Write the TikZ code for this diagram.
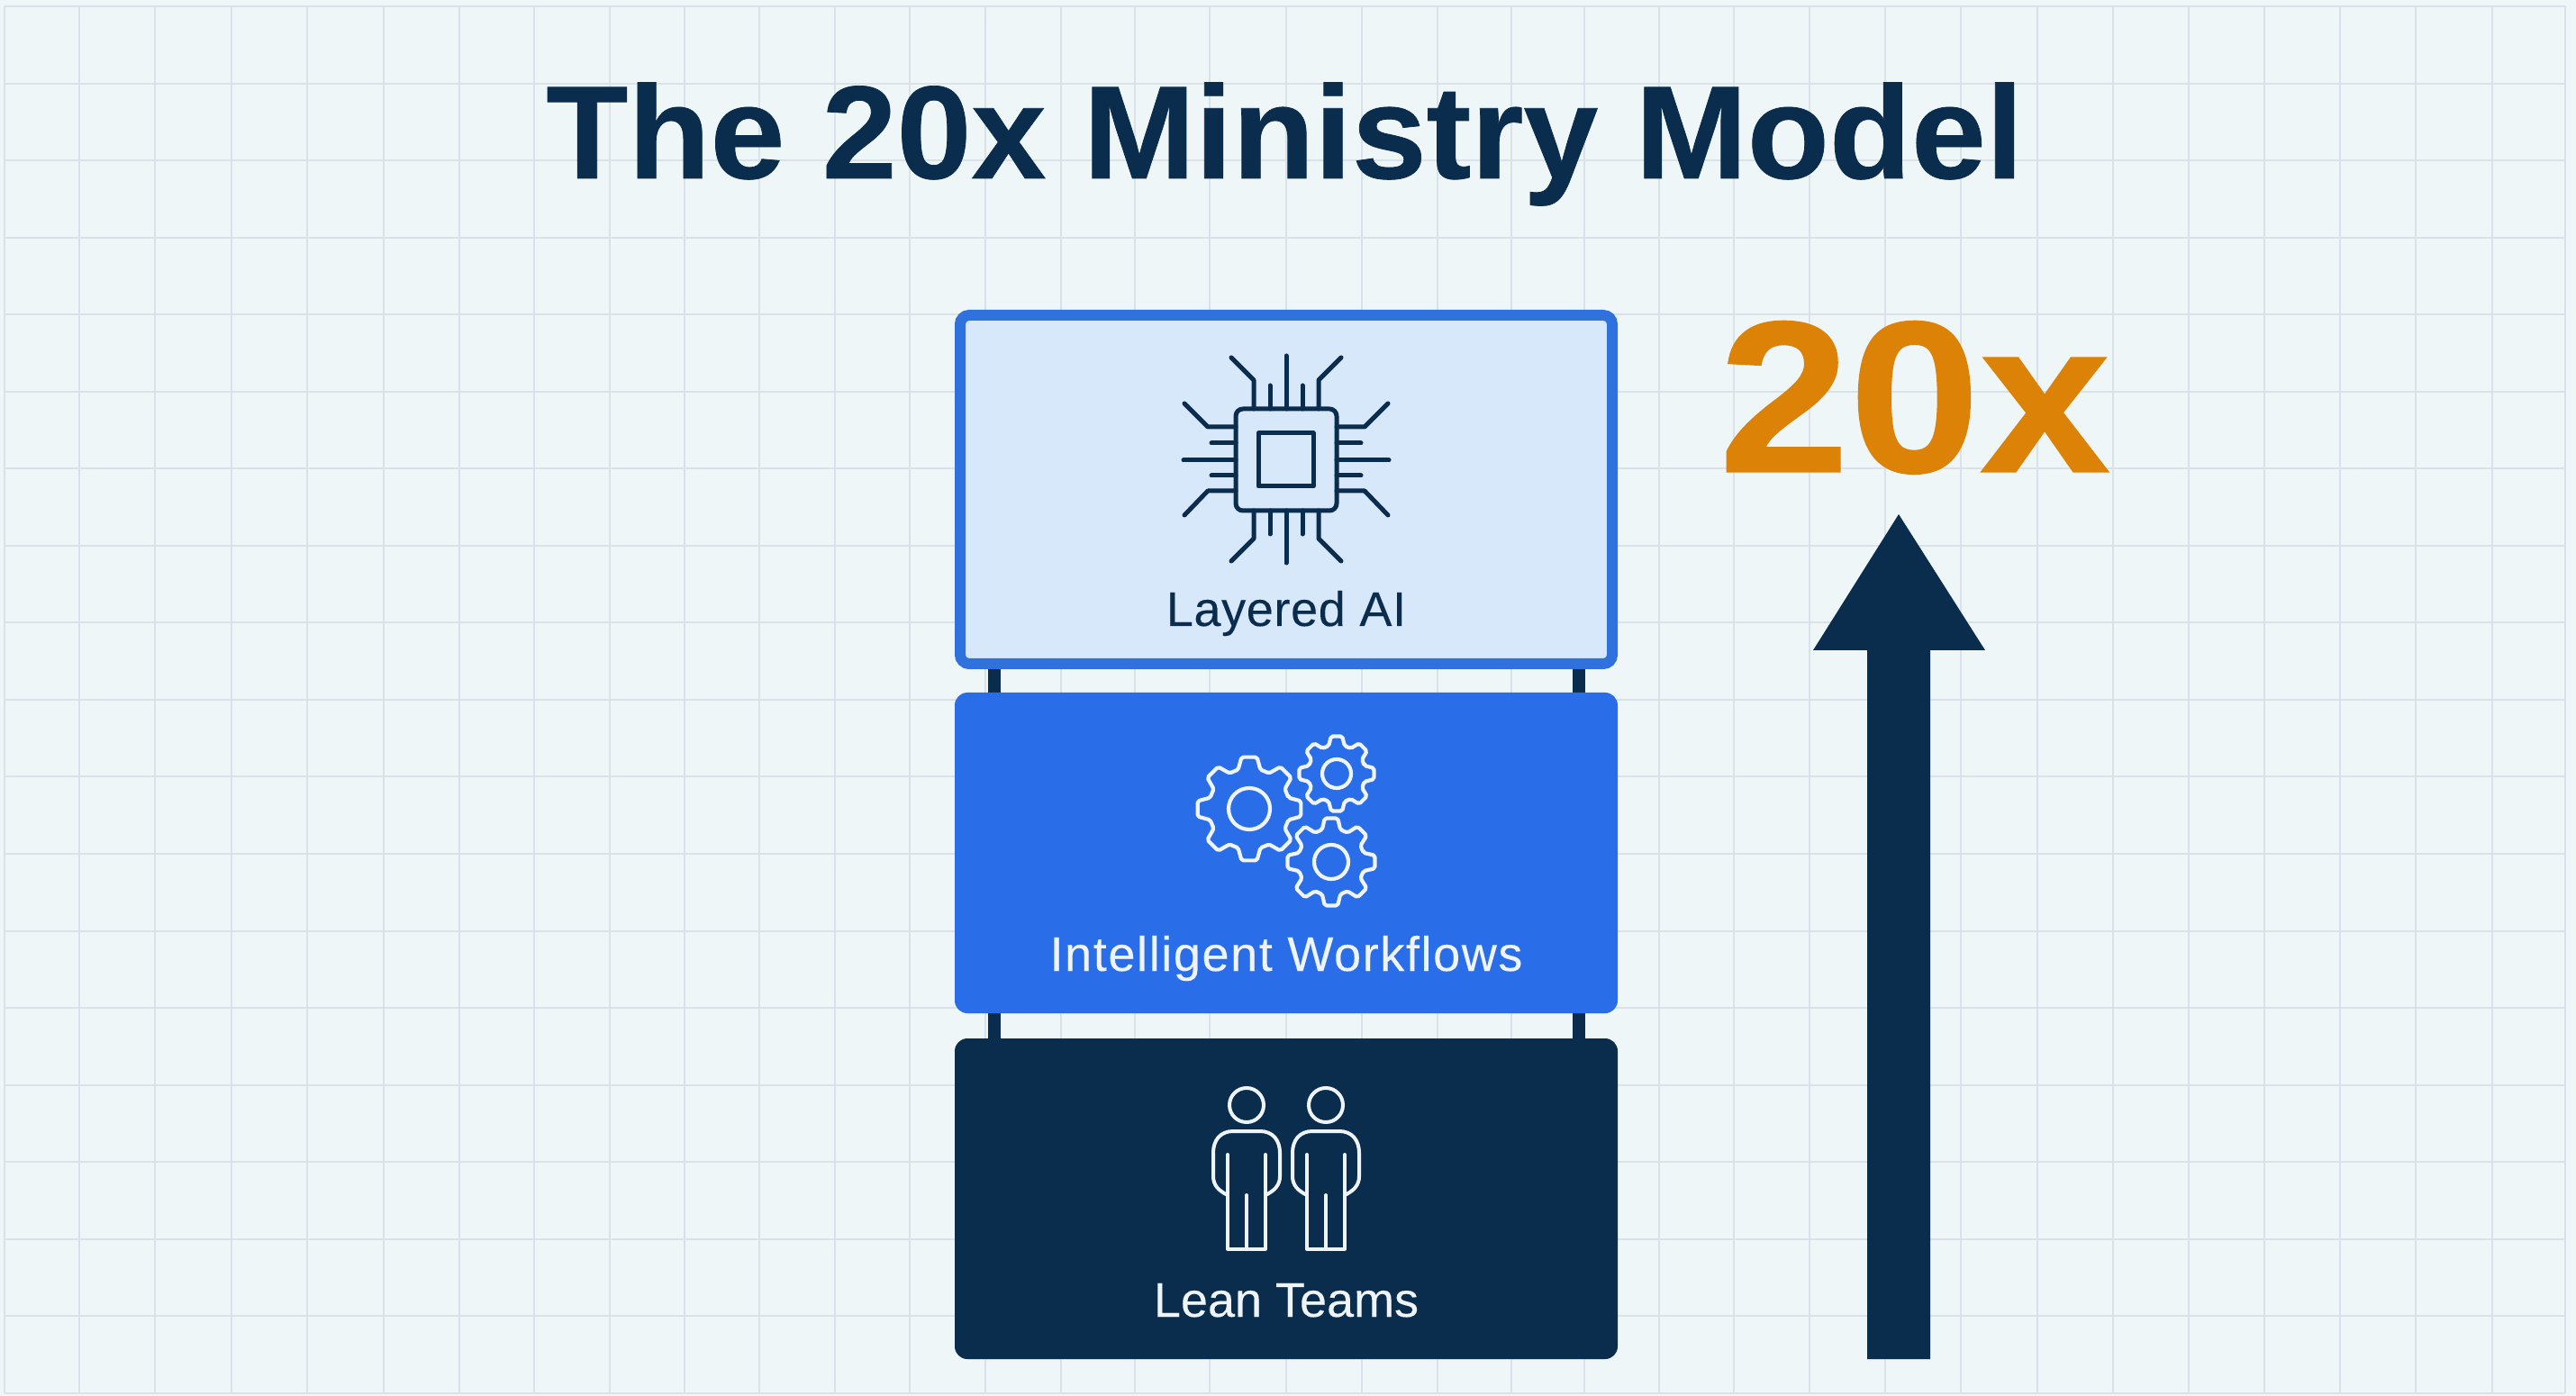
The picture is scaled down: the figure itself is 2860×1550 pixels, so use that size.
\documentclass[tikz,border=0pt]{standalone}
\usepackage{fontspec}
\usepackage{graphicx}
\setmainfont{Liberation Sans}
\usetikzlibrary{backgrounds}
\definecolor{navy}{HTML}{0A2C4D}
\definecolor{pageblue}{HTML}{EFF6F7}
\definecolor{gridline}{HTML}{DAE2E9}
\definecolor{midblue}{HTML}{2A6DE8}
\definecolor{edgeblue}{HTML}{2F72DE}
\definecolor{paleblue}{HTML}{D8E8FB}
\definecolor{amber}{HTML}{DC8206}
\definecolor{iconwhite}{HTML}{EEF4FA}
\newcommand{\labelsize}{\fontsize{27pt}{30pt}\selectfont}
\newcommand{\gearicon}[5]{%
  \begin{scope}[shift={(#1,#2)}]
    \draw[gearline] (-16:#4) \foreach \a in {0,45,...,315}{
      -- (\a-16:#4) -- (\a-8.5:#3) -- (\a+8.5:#3) -- (\a+16:#4) -- (\a+22.5:#4)} -- cycle;
    \draw[gearline] (0,0) circle[radius=#5];
  \end{scope}}
\newcommand{\personicon}[1]{%
  \begin{scope}[shift={(#1,0)}]
    \draw[personline] (0,1227) circle[radius=19];
    \draw[personline] (-21,1282) -- (-21,1387) -- (21,1387) -- (21,1282);
    \draw[personline] (0,1327) -- (0,1387);
    \draw[personline] (-21,1327) .. controls (-31,1322) and (-37,1316) .. (-37,1306)
      -- (-37,1280) .. controls (-37,1266) and (-29,1256) .. (-15,1256)
      -- (15,1256) .. controls (29,1256) and (37,1266) .. (37,1280)
      -- (37,1306) .. controls (37,1316) and (31,1322) .. (21,1327);
  \end{scope}}
\tikzset{
  x=0.5pt, y=-0.5pt,
  gridrule/.style={draw=gridline, line width=1pt},
  layerbox/.style={rounded corners=7pt, minimum width=368pt, minimum height=178pt, inner sep=0pt, outer sep=0pt},
  post/.style={draw=navy, line width=7pt},
  chipline/.style={draw=navy, line width=2.5pt, line cap=round, line join=round},
  gearline/.style={draw=iconwhite, line width=2.1pt, line join=round, rounded corners=1pt},
  personline/.style={draw=iconwhite, line width=2pt, line join=round, line cap=round},
  tierlabel/.style={anchor=base, inner sep=0pt, font=\labelsize},
}
\begin{document}
\begin{tikzpicture}
\useasboundingbox (0,0) rectangle (2860,1550);
% layer boxes
\node[layerbox, draw=edgeblue, fill=paleblue, line width=6pt, rounded corners=5pt,
      minimum width=362pt, minimum height=193.5pt] (box1) at (1428,543.5) {};
\node[layerbox, fill=midblue] (box2) at (1428,947) {};
\node[layerbox, fill=navy] (box3) at (1428,1331) {};
% background and posts
\coordinate (pl) at (1104,0);
\coordinate (pr) at (1753,0);
\begin{scope}[on background layer]
  \fill[pageblue] (0,0) rectangle (2860,1550);
  \foreach \gx in {5,88,172,257,341,426,510,593,677,760,843,927,1010,1094,1178,1260,1343,1428,1512,1596,1678,1759,1842,1925,2009,2093,2177,2262,2346,2430,2514,2598,2682,2767,2848}
    \draw[gridrule] (\gx,7) -- (\gx,1547);
  \foreach \k in {0,...,18}
    \draw[gridrule] (5,7+85.55*\k) -- (2848,7+85.55*\k);
  \draw[post] (box1.south -| pl) -- (box2.north -| pl);
  \draw[post] (box1.south -| pr) -- (box2.north -| pr);
  \draw[post] (box2.south -| pl) -- (box3.north -| pl);
  \draw[post] (box2.south -| pr) -- (box3.north -| pr);
\end{scope}
% title
\node[anchor=base west, inner sep=0pt, text=navy, font=\fontsize{73.5pt}{80pt}\selectfont\bfseries] (title) at (606,198) {\addfontfeatures{FakeBold=0.5}\scalebox{1.014}[1]{The 20x Ministry Model}};
% chip icon
\draw[chipline, rounded corners=4pt] (1372,454) rectangle (1484,567);
\draw[chipline] (1397,481) rectangle (1458,540);
\draw[chipline] (1428,454) -- (1428,395);
\draw[chipline] (1410,454) -- (1410,428);
\draw[chipline] (1446,454) -- (1446,428);
\draw[chipline] (1392,454) -- (1392,422) -- (1367,397);
\draw[chipline] (1464,454) -- (1464,422) -- (1489,397);
\draw[chipline] (1428,567) -- (1428,625);
\draw[chipline] (1410,567) -- (1410,593);
\draw[chipline] (1446,567) -- (1446,593);
\draw[chipline] (1392,567) -- (1392,598) -- (1367,623);
\draw[chipline] (1464,567) -- (1464,598) -- (1489,623);
\draw[chipline] (1372,511) -- (1314,511);
\draw[chipline] (1372,492) -- (1345,492);
\draw[chipline] (1372,528) -- (1345,528);
\draw[chipline] (1372,474) -- (1341,474) -- (1315,448);
\draw[chipline] (1372,545) -- (1341,545) -- (1315,572);
\draw[chipline] (1484,511) -- (1542,511);
\draw[chipline] (1484,492) -- (1511,492);
\draw[chipline] (1484,528) -- (1511,528);
\draw[chipline] (1484,474) -- (1515,474) -- (1541,448);
\draw[chipline] (1484,545) -- (1515,545) -- (1541,572);
\node[tierlabel, text=navy] (lab1) at (1428,695) {\addfontfeatures{LetterSpace=1.2,FakeBold=0.15}Layered AI};
% gear icon
\gearicon{1387}{898}{58}{45}{23}
\gearicon{1484}{859}{42}{32}{16}
\gearicon{1478}{957}{49}{37}{19}
\node[tierlabel, text=iconwhite] (lab2) at (1428,1078) {\addfontfeatures{LetterSpace=3,FakeBold=0.15}Intelligent Workflows};
% people icon
\personicon{1384}
\personicon{1472}
\node[tierlabel, text=iconwhite] (lab3) at (1428,1462) {\addfontfeatures{FakeBold=0.15}Lean Teams};
% arrow and factor
\fill[navy] (2108,571) -- (2204,722) -- (2143,722) -- (2143,1509) -- (2073,1509) -- (2073,722) -- (2013,722) -- cycle;
\node[anchor=base west, inner sep=0pt, text=amber, font=\fontsize{120pt}{130pt}\selectfont\bfseries] (factor) at (1908,524) {\addfontfeatures{FakeBold=0.6}\scalebox{1.085}[1]{20x}};
\end{tikzpicture}
\end{document}
